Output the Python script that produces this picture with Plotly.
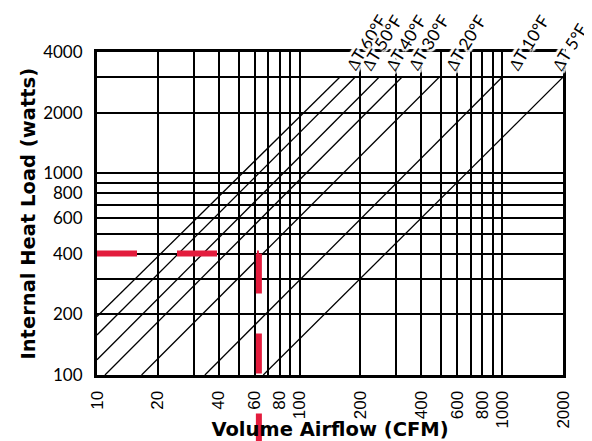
import math
import plotly.graph_objects as go

# grid / tick data
x_grid = [10, 20, 30, 40, 50, 60, 70, 80, 90, 100, 200, 300, 400, 500, 600, 700, 800, 900, 1000, 2000]
x_labels = ['10', '20', '', '40', '', '60', '', '80', '', '100', '200', '', '400', '', '600', '', '800', '', '1000', '2000']
y_grid = [100, 200, 300, 400, 500, 600, 700, 800, 900, 1000, 2000, 3000, 4000]
y_labels = ['100', '200', '', '400', '', '600', '', '800', '', '1000', '2000', '', '4000']

# temperature-rise lines
dt_labels = ['∆T 60°F', '∆T 50°F', '∆T 40°F', '∆T 30°F', '∆T 20°F', '∆T 10°F', '∆T 5°F']
start_cfm = [10, 10, 10, 10.95, 16.6, 34.1, 66.2]
start_load = [195, 158, 119, 100, 100, 100, 100]
end_cfm = [158, 188, 247, 320, 489, 1000, 2000]
end_load = [3000, 3000, 3000, 3000, 3000, 3000, 3000]

# worked example (red dashed guide)
example_cfm = [10, 63]
example_load = [400, 400]

RED = '#e31c3d'
HALO = ('white 3px 0px 1px, white -3px 0px 1px, white 0px 3px 1px, white 0px -3px 1px, '
        'white 2px 2px 1px, white -2px -2px 1px, white 2px -2px 1px, white -2px 2px 1px')
# label nudges (styling only): the last label is pulled in to stay on the page
LABEL_XSHIFT = {'∆T 5°F': -17}

fig = go.Figure()

for i, lab in enumerate(dt_labels):
    fig.add_trace(go.Scatter(
        x=[start_cfm[i], end_cfm[i]], y=[start_load[i], end_load[i]],
        mode='lines', line=dict(color='black', width=1.3),
        showlegend=False, hoverinfo='skip'))
    fig.add_annotation(
        x=math.log10(end_cfm[i]), y=math.log10(end_load[i]),
        xref='x', yref='y', text=lab, showarrow=False,
        textangle=-58, xanchor='left', yanchor='bottom',
        xshift=0 + LABEL_XSHIFT.get(lab, 0), yshift=2, borderpad=0,
        font=dict(family='Lato', size=17, color='black', shadow=HALO))

fig.add_trace(go.Scatter(
    x=example_cfm, y=example_load, mode='lines',
    line=dict(color=RED, width=6, dash='40px,40px'),
    showlegend=False, hoverinfo='skip'))

x_range = [math.log10(x_grid[0]), math.log10(x_grid[-1])]
y_range = [math.log10(y_grid[0]), math.log10(y_grid[-1])]
y_frac = (math.log10(example_load[-1]) - y_range[0]) / (y_range[1] - y_range[0])

fig.add_shape(type='line', xref='x', yref='paper',
              x0=example_cfm[-1], x1=example_cfm[-1], y0=y_frac, y1=-0.3,
              line=dict(color=RED, width=6, dash='40px,40px'), layer='above')

fig.update_xaxes(
    type='log', range=x_range, tickmode='array', tickvals=x_grid, ticktext=x_labels,
    tickangle=-90, showgrid=True, gridcolor='black', gridwidth=1.5,
    showline=True, linecolor='black', linewidth=3, mirror=True, ticks='',
    ticklabelstandoff=6, zeroline=False,
    tickfont=dict(family='Liberation Sans', size=17, color='black'),
    title=dict(text='Volume Airflow (CFM)', standoff=2,
               font=dict(family='DejaVu Sans', size=19.5, color='black', weight='bold')))
fig.update_yaxes(
    type='log', range=y_range, tickmode='array', tickvals=y_grid, ticktext=y_labels,
    showgrid=True, gridcolor='black', gridwidth=1.5,
    showline=True, linecolor='black', linewidth=3, mirror=True, ticks='',
    ticklabelstandoff=8, zeroline=False,
    tickfont=dict(family='Lato', size=17, color='black'))

# y-axis title placed as a centred rotated text
fig.add_annotation(
    xref='paper', yref='paper', x=-0.148, y=0.5, xanchor='center', yanchor='middle',
    text='Internal Heat Load (watts)', textangle=-90, showarrow=False,
    font=dict(family='DejaVu Sans', size=19.5, color='black', weight='bold'))

fig.update_layout(
    width=584, height=433,
    margin=dict(l=89, r=29, t=44, b=66, autoexpand=False),
    plot_bgcolor='white', paper_bgcolor='white',
    showlegend=False)

fig.write_html('out.html')
